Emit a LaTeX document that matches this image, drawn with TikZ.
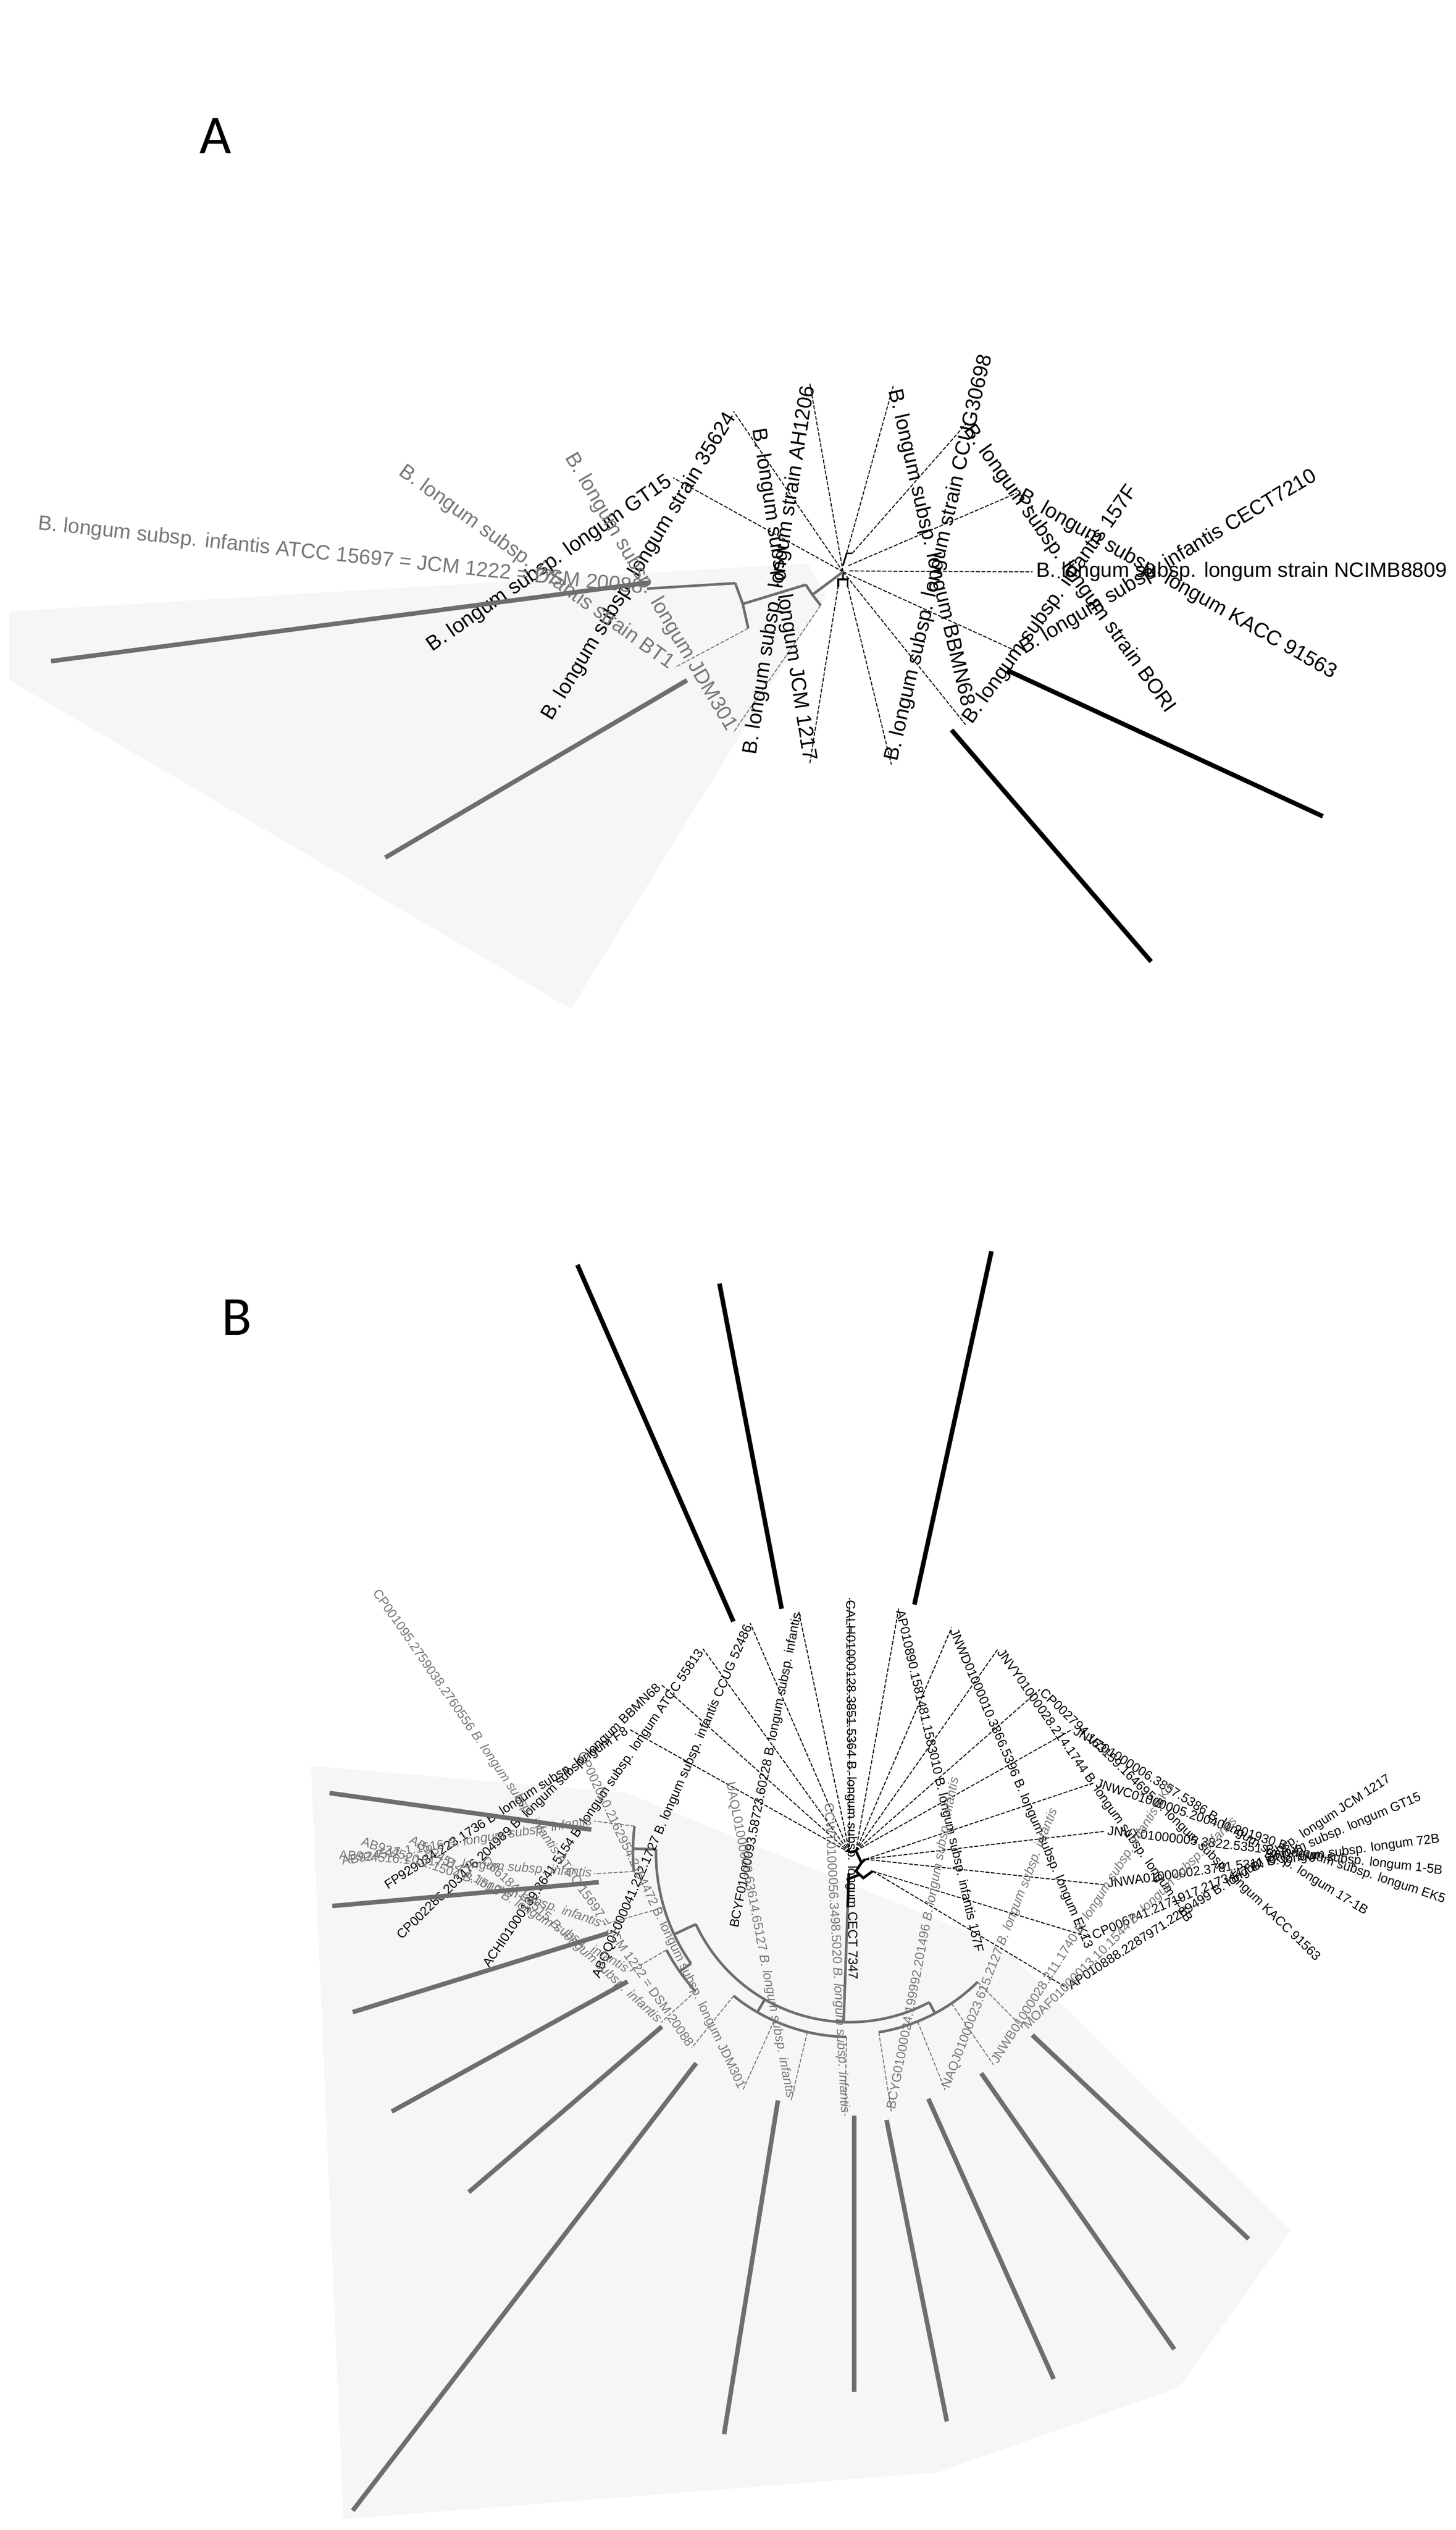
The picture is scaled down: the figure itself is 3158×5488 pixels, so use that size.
\documentclass[tikz,border=0pt]{standalone}
\usepackage{fontspec}
\setmainfont{Liberation Sans}
\newfontfamily\lettfont{Carlito}
\usetikzlibrary{calc}
\definecolor{gtx}{HTML}{777777}
\definecolor{gbar}{HTML}{6E6E6E}
\definecolor{shadecol}{HTML}{F6F6F6}
\tikzset{
 labA/.style={font=\fontsize{6.4}{7}\selectfont, inner sep=1pt},
 labB/.style={font=\fontsize{4}{5}\selectfont, inner sep=0.6pt},
 gt/.style={text=gtx},
 leaf/.style={line width=0.3pt, dash pattern=on 1.2pt off 0.5pt},
 gleaf/.style={leaf, draw=gtx},
 gbr/.style={line width=0.8pt, draw=gbar},
 bbr/.style={line width=0.8pt, draw=black},
 ubar/.style={line width=1.4pt},
}
% label reading from L outward to F (anchor west at L)
\newcommand\labR[5]{\path let \p1=(#2), \p2=(#3), \n1={atan2(\y2-\y1,\x2-\x1)} in node[#1, rotate=\n1, anchor=west] (#4) at (#2) {#5};}
% label reading from F toward L (anchor east at L)
\newcommand\labL[5]{\path let \p1=(#2), \p2=(#3), \n1={atan2(\y2-\y1,\x2-\x1)} in node[#1, rotate=\n1, anchor=east] (#4) at (#3) {#5};}
\begin{document}
\begin{tikzpicture}[x=0.005cm,y=0.005cm]
\useasboundingbox (0,0) rectangle (3158,-5488);
%% ================= PANEL A =================
\begin{scope}[xscale=2.014, yscale=-1.658]
\fill[shadecol] (10,800) -- (870,737) -- (890,780) -- (615,1320) -- (10,890) -- cycle;
\node[font=\lettfont\fontsize{17}{18}\selectfont] (letA) at (232,178) {A};
\coordinate (cA) at (908,748);
\coordinate (La1) at (1112,748);  \coordinate (Fa1) at (1560,748);
\coordinate (La2) at (1095,645);  \coordinate (Fa2) at (1455,440);
\coordinate (La3) at (1040,555);  \coordinate (Fa3) at (1287,210);
\coordinate (La4) at (962,505);   \coordinate (Fa4) at (1058,90);
\coordinate (La5) at (872,500);   \coordinate (Fa5) at (795,15);
\coordinate (La6) at (790,538);   \coordinate (Fa6) at (558,155);
\coordinate (La7) at (725,625);   \coordinate (Fa7) at (445,430);
\coordinate (La8) at (697,770);   \coordinate (Fa8) at (55,838);
\coordinate (La9) at (727,873);   \coordinate (Fa9) at (405,1105);
\coordinate (La10) at (790,958);  \coordinate (Fa10) at (585,1305);
\coordinate (La11) at (872,1000); \coordinate (Fa11) at (805,1435);
\coordinate (La12) at (960,1000); \coordinate (Fa12) at (1075,1495);
\coordinate (La13) at (1040,948); \coordinate (Fa13) at (1245,1237);
\coordinate (La14) at (1097,853); \coordinate (Fa14) at (1432,1053);
\draw[leaf] (915,747) -- (La1);
\draw[leaf] (914,740) -- (La2);
\draw[leaf] (918,724) -- (La3);
\draw[leaf] (912,724) -- (La4);
\draw[leaf] (cA) -- (La5);
\draw[leaf] (cA) -- (La6);
\draw[leaf] (cA) -- (La7);
\draw[leaf] (903,766) -- (La11);
\draw[leaf] (913,766) -- (La12);
\draw[leaf] (cA) -- (La13);
\draw[leaf] (cA) -- (La14);
\draw[line width=0.5pt] (908,740) -- (912,724) -- (918,724);
\draw[line width=0.5pt] (903,768) -- (903,758) -- (913,758) -- (913,768);
\draw[line width=0.5pt] (908,758) -- (cA);
\coordinate (nA1) at (875,778);
\coordinate (nA2) at (800,790);
\draw[gbr] (cA) -- (nA1);
\draw[gbr] (868,765) -- (nA1) -- (884,792);
\draw[gbr] (868,765) -- (nA2);
\draw[gbr] (792,763) -- (nA2) -- (806,822);
\draw[gbr] (792,763) -- (La8);
\draw[gleaf] (806,822) -- (La9);
\draw[gleaf] (884,792) -- (La10);
\labR{labA}{La1}{Fa1}{ta1}{B. longum subsp. longum strain NCIMB8809}
\labR{labA}{La2}{Fa2}{ta2}{B. longum subsp. longum KACC 91563}
\labR{labA}{La3}{Fa3}{ta3}{B. longum subsp. longum strain BORI}
\labR{labA}{La4}{Fa4}{ta4}{B. longum subsp. longum BBMN68}
\labL{labA}{Fa5}{La5}{ta5}{B. longum subsp. longum strain AH1206}
\labL{labA}{Fa6}{La6}{ta6}{B. longum subsp. longum strain 35624}
\labL{labA}{Fa7}{La7}{ta7}{B. longum subsp. longum GT15}
\labL{labA,gt}{Fa8}{La8}{ta8}{B. longum subsp. infantis ATCC 15697 = JCM 1222 = DSM 20088}
\labL{labA,gt}{Fa9}{La9}{ta9}{B. longum subsp. infantis strain BT1}
\labL{labA,gt}{Fa10}{La10}{ta10}{B. longum subsp. longum JDM301}
\labL{labA}{Fa11}{La11}{ta11}{B. longum subsp. longum JCM 1217}
\labR{labA}{La12}{Fa12}{ta12}{B. longum subsp. longum strain CCUG30698}
\labR{labA}{La13}{Fa13}{ta13}{B. longum subsp. infantis 157F}
\labR{labA}{La14}{Fa14}{ta14}{B. longum subsp. infantis CECT7210}
\draw[ubar,gbar] (55,865) -- (700,762);
\draw[ubar,gbar] (415,1122) -- (740,890);
\draw[ubar] (1085,877) -- (1425,1068);
\draw[ubar] (1025,955) -- (1240,1258);
\end{scope}
%% ================= PANEL B =================
\begin{scope}[shift={(0,-2600)}, xscale=2.014, yscale=-1.842]
\fill[shadecol] (335,668) -- (675,700) -- (1080,880) -- (1390,1215) -- (1270,1400) -- (1010,1500) -- (370,1555) -- cycle;
\node[font=\lettfont\fontsize{17}{18}\selectfont] (letB) at (255,140) {B};
\coordinate (cB) at (915,770);
\coordinate (Ln1) at (678,625);   \coordinate (Fn1) at (400,445);
\coordinate (Ln2) at (712,572);   \coordinate (Fn2) at (410,280);
\coordinate (Ln3) at (757,530);   \coordinate (Fn3) at (505,160);
\coordinate (Ln4) at (808,500);   \coordinate (Fn4) at (625,78);
\coordinate (Ln5) at (860,485);   \coordinate (Fn5) at (783,100);
\coordinate (Ln6) at (915,470);   \coordinate (Fn6) at (918,15);
\coordinate (Ln7) at (968,482);   \coordinate (Fn7) at (1065,65);
\coordinate (Ln8) at (1025,505);  \coordinate (Fn8) at (1190,120);
\coordinate (Ln9) at (1075,530);  \coordinate (Fn9) at (1300,210);
\coordinate (Ln10) at (1120,578); \coordinate (Fn10) at (1440,268);
\coordinate (Ln11) at (1155,625); \coordinate (Fn11) at (1485,420);
\coordinate (Ln12) at (1178,688); \coordinate (Fn12) at (1562,560);
\coordinate (Ln13) at (1190,745); \coordinate (Fn13) at (1530,705);
\coordinate (Ln14) at (1190,808); \coordinate (Fn14) at (1555,858);
\coordinate (Ln15) at (1175,870); \coordinate (Fn15) at (1515,1015);
\coordinate (Ln16) at (1150,930); \coordinate (Fn16) at (1510,1165);
\foreach \i in {1,...,6} {\draw[leaf] (cB) -- (Ln\i);}
\foreach \i in {7,...,11} {\draw[leaf] (922,768) -- (Ln\i);}
\foreach \i in {12,13,14} {\draw[leaf] (932,778) -- (Ln\i);}
\foreach \i in {15,16} {\draw[leaf] (940,792) -- (Ln\i);}
\draw[bbr] (cB) -- (922,768) -- (928,782) -- (932,778);
\draw[bbr] (928,782) -- (922,792) -- (930,800) -- (940,792);
\draw[bbr] (926,796) -- (912,802);
\begin{scope}[shift={(cB)}, xscale=1/2.014, yscale=-1/1.842]
 \draw[bbr] (268:45) -- (268:120);
 \draw[gbr] (268:120) -- (268:368);
 \draw[gbr] (205:368) arc[start angle=205, end angle=298, radius=368];
 \draw[gbr] (205:368) -- (205:420);
 \draw[gbr] (179:420) arc[start angle=179, end angle=215, radius=420];
 \draw[gbr] (179:420) -- (179:470);
 \draw[gbr] (173:470) arc[start angle=173, end angle=185, radius=470];
 \draw[gbr] (215:420) -- (215:450);
 \draw[gbr] (208:450) arc[start angle=208, end angle=222, radius=450];
 \draw[gbr] (240:368) -- (240:400);
 \draw[gbr] (231:400) arc[start angle=231, end angle=269, radius=400];
 \draw[gbr] (298:368) -- (298:395);
 \draw[gbr] (279.2:395) arc[start angle=279.2, end angle=314.7, radius=395];
 \coordinate (pa) at (173:470);  \coordinate (pb) at (185:470);
 \coordinate (pc) at (196.4:420); \coordinate (pd) at (208:450);
 \coordinate (pe) at (222:450);  \coordinate (pf) at (231:400);
 \coordinate (pg) at (245.8:400); \coordinate (ph) at (256.7:400);
 \coordinate (pi) at (269:400);  \coordinate (pj) at (279.2:395);
 \coordinate (pk) at (291.9:395); \coordinate (pl) at (304:395);
 \coordinate (pm) at (314.7:395);
\end{scope}
\coordinate (Lga) at (640,733);  \coordinate (Fga) at (360,688);
\coordinate (Lgb) at (640,795);  \coordinate (Fgb) at (357,815);
\coordinate (Lgc) at (650,855);  \coordinate (Fgc) at (378,948);
\coordinate (Lgd) at (678,910);  \coordinate (Fgd) at (425,1062);
\coordinate (Lge) at (712,970);  \coordinate (Fge) at (505,1160);
\coordinate (Lgf) at (745,1000); \coordinate (Fgf) at (378,1530);
\coordinate (Lgg) at (800,1050); \coordinate (Fgg) at (620,1425);
\coordinate (Lgh) at (852,1062); \coordinate (Fgh) at (785,1410);
\coordinate (Lgi) at (910,1080); \coordinate (Fgi) at (893,1395);
\coordinate (Lgj) at (960,1075); \coordinate (Fgj) at (1030,1440);
\coordinate (Lgk) at (1018,1050); \coordinate (Fgk) at (1148,1385);
\coordinate (Lgl) at (1070,1020); \coordinate (Fgl) at (1280,1350);
\coordinate (Lgm) at (1103,978); \coordinate (Fgm) at (1352,1225);
\foreach \k in {a,b,c,d,e,f,g,h,i,j,k,l,m} {\draw[gleaf] (p\k) -- (Lg\k);}
\labL{labB}{Fn1}{Ln1}{tn1}{FP929034.223.1736 B. longum subsp. longum F8}
\labL{labB}{Fn2}{Ln2}{tn2}{CP002286.203476.204989 B. longum subsp. longum BBMN68}
\labL{labB}{Fn3}{Ln3}{tn3}{ACHI01000139.3641.5154 B. longum subsp. longum ATCC 55813}
\labL{labB}{Fn4}{Ln4}{tn4}{ABQQ01000041.222.1727 B. longum subsp. infantis CCUG 52486}
\labL{labB}{Fn5}{Ln5}{tn5}{BCYF01000093.58723.60228 B. longum subsp. infantis}
\labR{labB}{Ln6}{Fn6}{tn6}{CALH01000128.3851.5364 B. longum subsp. longum CECT 7347}
\labR{labB}{Ln7}{Fn7}{tn7}{AP010890.1581481.1583010 B. longum subsp. infantis 157F}
\labR{labB}{Ln8}{Fn8}{tn8}{JNWD01000010.3866.5396 B. longum subsp. longum EK13}
\labR{labB}{Ln9}{Fn9}{tn9}{JNVY01000028.214.1744 B. longum subsp. longum 7-1B}
\labR{labB}{Ln10}{Fn10}{tn10}{CP002794.163159.164695 B. longum subsp. longum KACC 91563}
\labR{labB}{Ln11}{Fn11}{tn11}{JNVZ01000006.3857.5386 B. longum subsp. longum 17-1B}
\labR{labB}{Ln12}{Fn12}{tn12}{JNWC01000005.200401.201930 B. longum subsp. longum EK5}
\labR{labB}{Ln13}{Fn13}{tn13}{JNVX01000005.3822.5351 B. longum subsp. longum 1-5B}
\labR{labB}{Ln14}{Fn14}{tn14}{JNWA01000002.3781.5311 B. longum subsp. longum 72B}
\labR{labB}{Ln15}{Fn15}{tn15}{CP006741.2171917.2173447 B. longum subsp. longum GT15}
\labR{labB}{Ln16}{Fn16}{tn16}{AP010888.2287971.2289499 B. longum subsp. longum JCM 1217}
\labL{labB,gt}{Fga}{Lga}{tga}{AB924517.1.1516 \textit{B. longum subsp. infantis}}
\labL{labB,gt}{Fgb}{Lgb}{tgb}{AB924516.1.1517 \textit{B. longum subsp. infantis}}
\labL{labB,gt}{Fgc}{Lgc}{tgc}{AB924520.1.1504 \textit{B. longum subsp. infantis}}
\labL{labB,gt}{Fgd}{Lgd}{tgd}{AB924514.1.1513 \textit{B. longum subsp. infantis}}
\labL{labB,gt}{Fge}{Lge}{tge}{D86184.1.1515 \textit{B. longum subsp. infantis}}
\labL{labB,gt}{Fgf}{Lgf}{tgf}{CP001095.2759038.2760556 \textit{B. longum subsp. infantis} ATCC 15697 = JCM 1222 = DSM 20088}
\labL{labB,gt}{Fgg}{Lgg}{tgg}{CP002010.2162954.2164472 B. longum subsp. longum JDM301}
\labL{labB,gt}{Fgh}{Lgh}{tgh}{UAQL01000028.63614.65127 \textit{B. longum subsp. infantis}}
\labL{labB,gt}{Fgi}{Lgi}{tgi}{CCWT01000056.3498.5020 \textit{B. longum subsp. infantis}}
\labR{labB,gt}{Lgj}{Fgj}{tgj}{BCYG01000024.199992.201496 \textit{B. longum subsp. infantis}}
\labR{labB,gt}{Lgk}{Fgk}{tgk}{NAQJ01000023.615.2127 \textit{B. longum subsp. infantis}}
\labR{labB,gt}{Lgl}{Fgl}{tgl}{JNWB01000028.211.1740 \textit{B. longum subsp. infantis} EK3}
\labR{labB,gt}{Lgm}{Fgm}{tgm}{MOAF01000013.10.1544 \textit{B. longum subsp. infantis}}
\draw[ubar] (622,78) -- (790,498);
\draw[ubar] (775,100) -- (842,483);
\draw[ubar] (985,478) -- (1068,62);
\draw[ubar,gbar] (355,700) -- (637,743);
\draw[ubar,gbar] (358,833) -- (645,805);
\draw[ubar,gbar] (380,958) -- (655,865);
\draw[ubar,gbar] (422,1075) -- (676,922);
\draw[ubar,gbar] (505,1170) -- (713,975);
\draw[ubar,gbar] (380,1545) -- (750,1018);
\draw[ubar,gbar] (780,1455) -- (838,1062);
\draw[ubar,gbar] (920,1080) -- (920,1405);
\draw[ubar,gbar] (955,1085) -- (1020,1440);
\draw[ubar,gbar] (1000,1060) -- (1135,1390);
\draw[ubar,gbar] (1057,1030) -- (1265,1355);
\draw[ubar,gbar] (1112,985) -- (1345,1225);
\end{scope}
\end{tikzpicture}
\end{document}
